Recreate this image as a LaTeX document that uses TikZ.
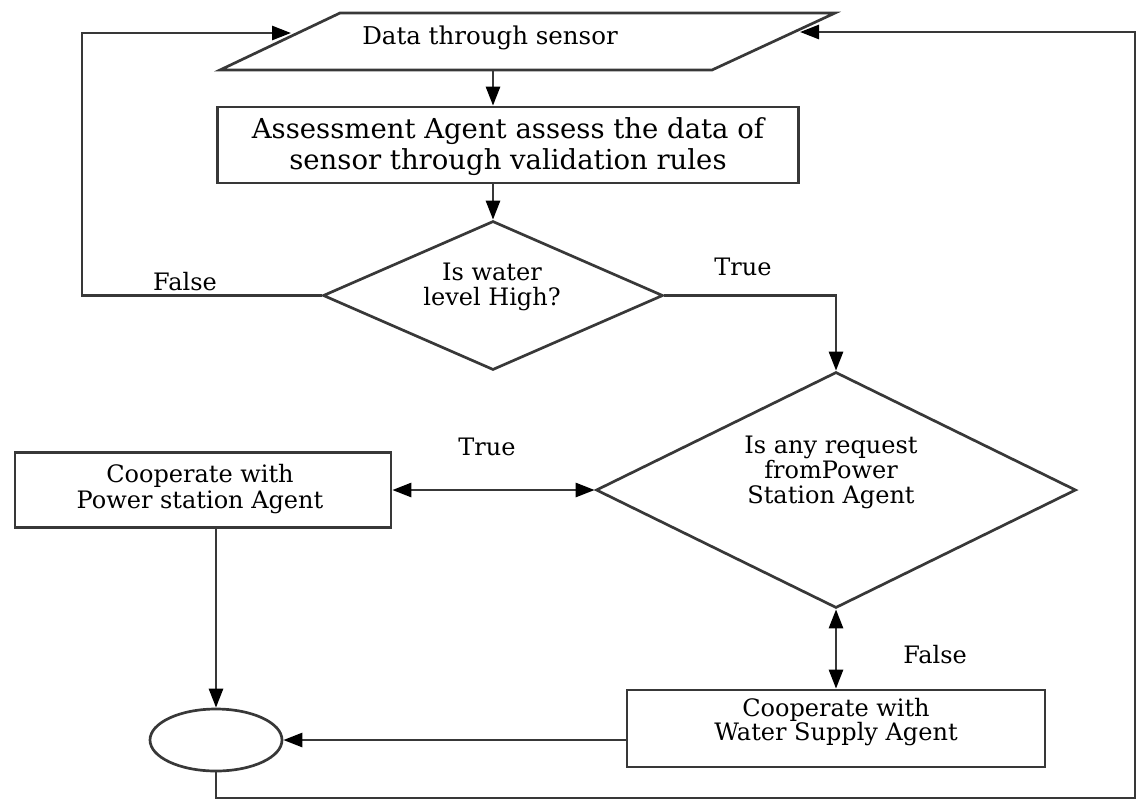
\documentclass[tikz,border=0pt]{standalone}
\usepackage{fontspec}
\setmainfont{DejaVu Serif}
\usetikzlibrary{arrows.meta,shapes.geometric,calc}
\begin{document}
\begin{tikzpicture}[x=1pt,y=-1pt,
  ln/.style={draw=black!78,line width=2.7pt},
  tip/.tip={Triangle[length=19pt,width=14pt,fill=black,color=black]},
  arr/.style={ln,-tip},
  darr/.style={ln,tip-tip},
  txt/.style={font=\fontsize{24}{25}\selectfont,align=center,inner sep=0pt,text=black},
  boxst/.style={ln,rectangle,inner sep=0pt},
  diast/.style={ln,diamond,inner sep=0pt},
  ellst/.style={ln,ellipse,inner sep=0pt}]
\useasboundingbox (0,0) rectangle (1139,801);
% parallelogram (input)
\coordinate (p1) at (340,13);
\coordinate (p2) at (835,13);
\coordinate (p3) at (712,70);
\coordinate (p4) at (220,70);
\draw[ln,line join=miter] (p1) -- (p2) -- (p3) -- (p4) -- cycle;
\node[txt,font=\fontsize{24.5}{26}\selectfont] (pt) at (490,38) {Data through sensor};
\coordinate (pbot) at (493,70);
\coordinate (pin) at (291,33);
\coordinate (pinR) at (800,32);
% boxes
\node[boxst,minimum width=581pt,minimum height=76pt] (box1) at (508,145) {};
\node[txt,font=\fontsize{27.5}{31}\selectfont] (box1t) at (508,147) {Assessment Agent assess the data of\\sensor through validation rules};
\node[diast,minimum width=340pt,minimum height=149pt] (d1) at (493,295.5) {};
\node[txt] (d1t) at (492,287) {Is water\\level High?};
\node[diast,minimum width=480pt,minimum height=236pt] (d2) at (836,490) {};
\node[txt] (d2t) at (831,472) {Is any request\\fromPower\\Station Agent};
\node[boxst,minimum width=376pt,minimum height=75pt] (lbox) at (203,490) {};
\node[txt,font=\fontsize{24}{26}\selectfont] (lboxt) at (200,489) {Cooperate with\\Power station Agent};
\node[boxst,minimum width=418pt,minimum height=77pt] (wbox) at (836,728.5) {};
\node[txt,font=\fontsize{24}{22}\selectfont] (wboxt) at (836,722) {Cooperate with\\Water Supply Agent};
\node[ellst,minimum width=132pt,minimum height=62pt] (ell) at (216,740) {};
% helper coordinates
\coordinate (cf) at (82,33);
\coordinate (cb) at (1135,798);
% labels
\node[txt] (lf1) at (185,282) {False};
\node[txt] (lt1) at (743,267) {True};
\node[txt] (lt2) at (487,447) {True};
\node[txt] (lf2) at (935,655) {False};
% connectors
\draw[arr] (pbot) -- (pbot |- box1.north);
\draw[arr] (box1.south -| d1.north) -- (d1.north);
\draw[arr] (d1.west) -| (cf) -- (pin);
\draw[arr] (d1.east) -| (d2.north);
\draw[darr] (lbox.east) -- (d2.west);
\draw[arr] (ell.north |- lbox.south) -- (ell.north);
\draw[darr] (d2.south) -- (wbox.north);
\draw[arr] (wbox.west |- ell.east) -- (ell.east);
\draw[arr] (ell.south) |- (cb) |- (pinR);
\end{tikzpicture}
\end{document}
